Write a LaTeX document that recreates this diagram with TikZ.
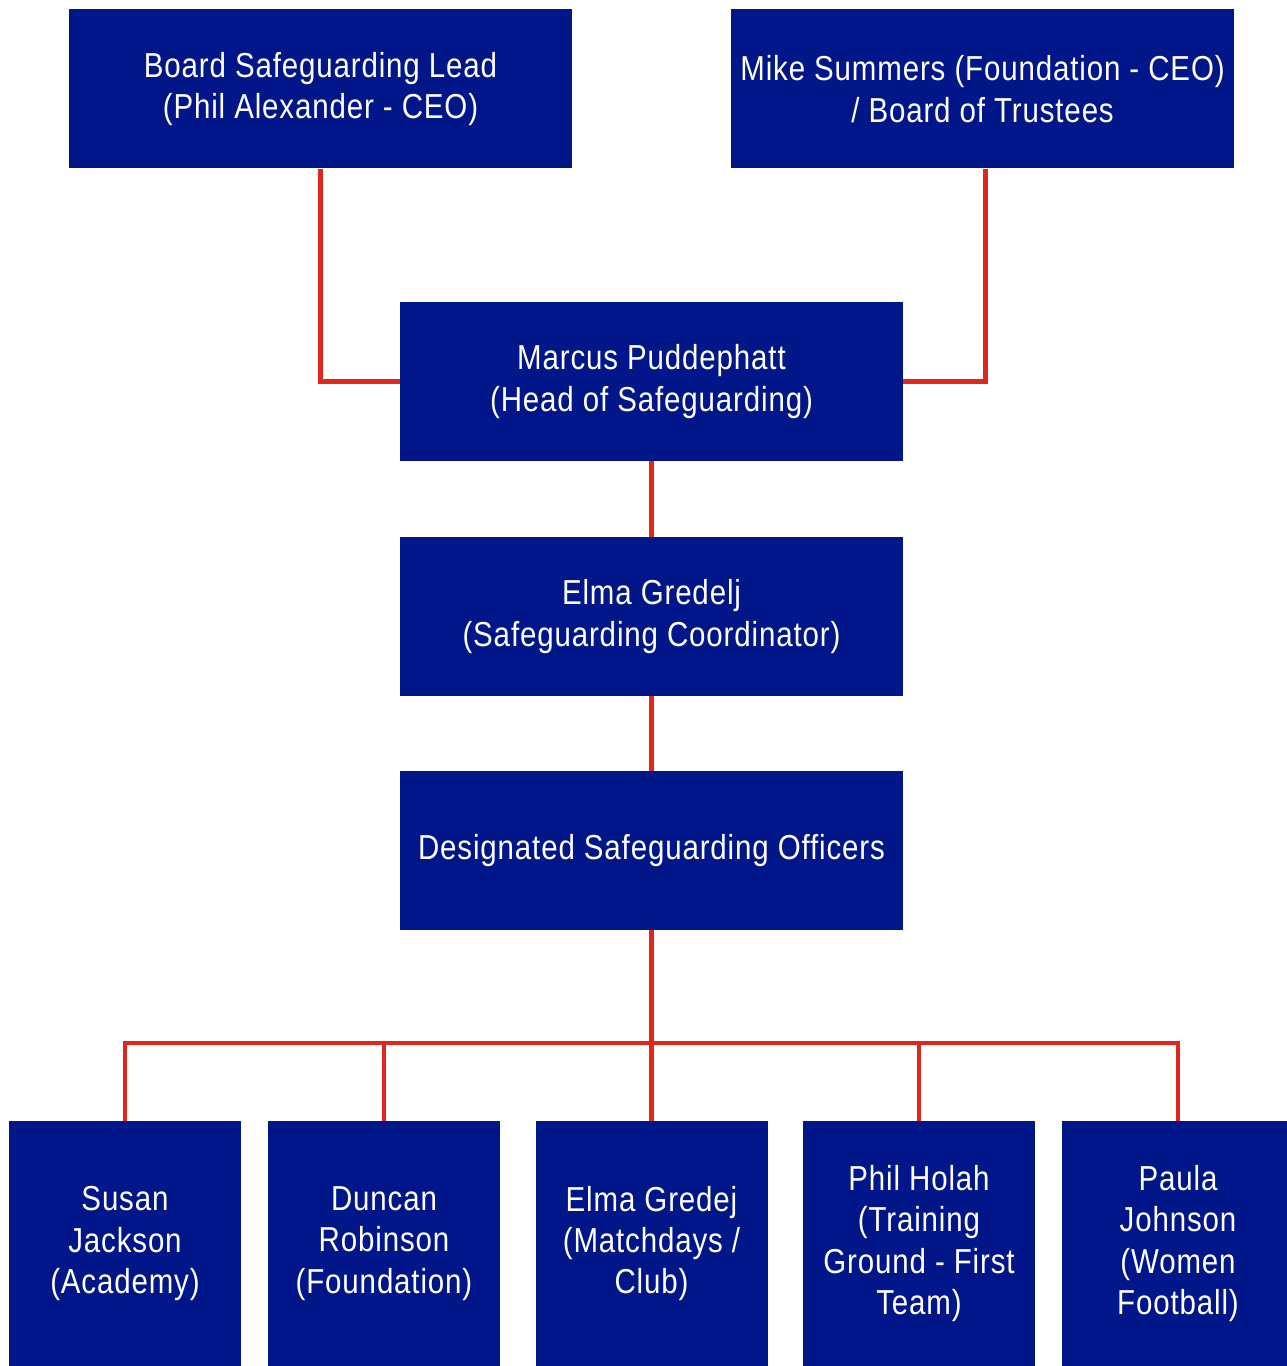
\documentclass[tikz,border=0pt]{standalone}
\usepackage{fontspec}
\setmainfont[FakeStretch=0.85, LetterSpace=2.5]{Liberation Sans}
\usetikzlibrary{positioning}
\definecolor{navy}{HTML}{001689}
\definecolor{redline}{HTML}{E1261C}
\tikzset{%
  mybox/.style={rectangle, fill=navy, text=white, align=center, inner sep=0pt,
    minimum width=377.25pt, minimum height=119.25pt, font=\fontsize{26}{31}\selectfont},
  smallbox/.style={mybox, minimum width=174pt, minimum height=183.75pt},
  myedge/.style={draw=redline, line width=3.6pt}
}

\begin{document}
\begin{tikzpicture}[x=0.75pt, y=-0.75pt]
\useasboundingbox (0,0) rectangle (1287,1366);

% top row
\node [mybox] (board) at (320.5,89) {Board Safeguarding Lead\\(Phil Alexander - CEO)};
\node [mybox] (trustees) at (982.5,89) {Mike Summers (Foundation - CEO)\\/ Board of Trustees};

% chain
\node [mybox] (head) at (651.5,381.5) {Marcus Puddephatt\\(Head of Safeguarding)};
\node [mybox] (coord) at (651.5,616.5) {Elma Gredelj\\(Safeguarding Coordinator)};
\node [mybox] (dso) at (651.5,850.5) {Designated Safeguarding Officers};

% officers
\foreach \x / \name / \txt in {125/susan/{Susan\\Jackson\\(Academy)},
  384/duncan/{Duncan\\Robinson\\(Foundation)},
  651.5/gredej/{Elma Gredej\\(Matchdays /\\Club)},
  919/phil/{Phil Holah\\(Training\\Ground - First\\Team)},
  1178/paula/{Paula\\Johnson\\(Women\\Football)}}{
  \node [smallbox] (\name) at (\x,1243.5) {\txt};
}

\coordinate (bus) at (651.5,1043);

\draw [myedge] (board.south) |- (head.west);
\draw [myedge] ([xshift=2pt]trustees.south) |- (head.east);
\draw [myedge] (head) -- (coord);
\draw [myedge] (coord) -- (dso);
\draw [myedge] (dso) -- (gredej);
\foreach \n in {susan, duncan, phil, paula} {
  \draw [myedge] (bus) -| (\n.north);
}

\end{tikzpicture}
\end{document}
